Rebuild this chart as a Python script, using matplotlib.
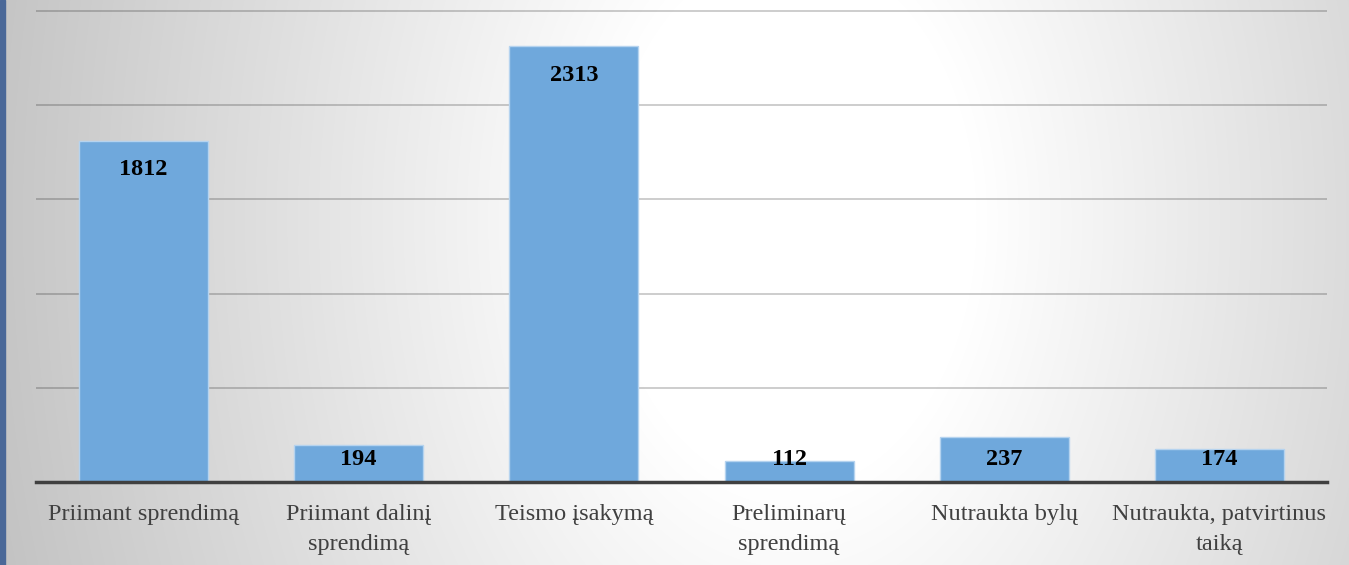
import numpy as np
import matplotlib
matplotlib.use("Agg")
import matplotlib.pyplot as plt

categories = ["Priimant sprendimą", "Priimant dalinį\nsprendimą", "Teismo įsakymą",
              "Preliminarų\nsprendimą", "Nutraukta bylų", "Nutraukta, patvirtinus\ntaiką"]
values = [1812, 194, 2313, 112, 237, 174]

plt.rcParams['font.family'] = ['Liberation Serif', 'DejaVu Serif']

W, H = 1349, 565
fig = plt.figure(figsize=(W / 100, H / 100), dpi=100)

# grey background, white glow in the middle-right
bg = fig.add_axes([0, 0, 1, 1], zorder=-10)
yy, xx = np.mgrid[0:H, 0:W]
d = np.sqrt(((xx - 790) / 620.0) ** 2 + ((yy - 220) / 900.0) ** 2)
shade = np.clip(1.0 - 0.23 * np.clip(d - 0.3, 0, None), 0.75, 1.0)
bg.imshow(np.dstack([shade, shade, shade]), aspect='auto', extent=[0, W, H, 0])
bg.add_patch(plt.Rectangle((0, 0), 5, H, color='#4a6898'))
bg.set_xlim(0, W)
bg.set_ylim(H, 0)
bg.axis('off')

ax = fig.add_axes([36 / W, (H - 482) / H, (1327 - 36) / W, (482 - 9) / H])
ax.set_facecolor('none')
x = np.arange(len(values))
ax.bar(x, values, width=0.6, color='#6fa8dc', edgecolor='#b5d3ef', linewidth=1, zorder=3)

ax.set_xlim(-0.5, len(values) - 0.5)
ax.set_ylim(0, 2510)
ax.set_yticks([500, 1000, 1500, 2000, 2500])
ax.yaxis.grid(True, color='black', alpha=0.25, linewidth=1.1)
ax.set_axisbelow(True)
ax.tick_params(axis='y', left=False, labelleft=False)
ax.tick_params(axis='x', length=0, pad=16, labelsize=17.5, labelcolor='#404040')
ax.set_xticks(x)
ax.set_xticklabels(categories, linespacing=1.55)
for s in ['top', 'right', 'left']:
    ax.spines[s].set_visible(False)
ax.spines['bottom'].set_color('#404040')
ax.spines['bottom'].set_linewidth(2.5)
ax.spines['bottom'].set_zorder(4)

for xi, v in zip(x, values):
    ax.text(xi, max(v - 155, 120), str(v), ha='center', va='center',
            fontsize=17.5, fontweight='bold', color='black', zorder=5)

fig.savefig('out.png', dpi=100)
